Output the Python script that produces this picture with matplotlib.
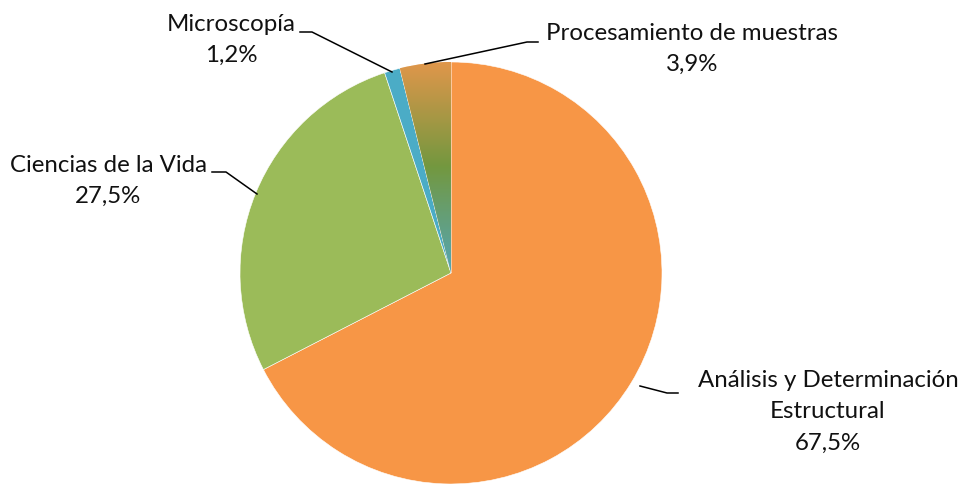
import numpy as np
import matplotlib
matplotlib.use("Agg")
import matplotlib.pyplot as plt
from matplotlib.colors import LinearSegmentedColormap

plt.rcParams['font.family'] = ['Lato', 'DejaVu Sans']

# shares by area
categories = ["Análisis y Determinación\nEstructural", "Ciencias de la Vida",
              "Microscopía", "Procesamiento de muestras"]
values = [67.5, 27.5, 1.2, 3.9]
pct_labels = ["67,5%", "27,5%", "1,2%", "3,9%"]
colors = ["#F79646", "#9BBB59", "#4BACC6", "#E2964B"]

W, H = 960, 484
fig = plt.figure(figsize=(W / 100, H / 100), dpi=100)
ax = fig.add_axes([0, 0, 1, 1])

cx, cy, r = 451, H - 273, 211
wedges, _ = ax.pie(values, startangle=90, counterclock=False, colors=colors,
                   center=(cx, cy), radius=r, frame=True,
                   wedgeprops=dict(edgecolor="white", linewidth=0.4))
ax.set_xlim(0, W)
ax.set_ylim(0, H)
ax.set_aspect("equal")
ax.axis("off")

# gradient fill for the last slice
grad = LinearSegmentedColormap.from_list(
    "proc", [(0.0, "#E2964B"), (0.5, "#73983F"), (1.0, "#55A6B5")])
wg = wedges[3]
g = np.linspace(0, 1, 256).reshape(-1, 1)
img = ax.imshow(g, cmap=grad, extent=(cx - 60, cx + 2, cy, cy + r + 2),
                origin="upper", aspect="auto", zorder=wg.get_zorder() + 0.1)
img.set_clip_path(wg)
ax.set_xlim(0, W)
ax.set_ylim(0, H)

fs = 17.3
txt = dict(fontsize=fs, color="#111111", ha="center", va="center", linespacing=1.62)
ln = dict(color="black", linewidth=1.1)

# Análisis y Determinación Estructural
ax.text(828, H - 412, categories[0] + "\n" + pct_labels[0], **txt)
ax.plot([640, 667, 678], [H - 386, H - 393, H - 393], **ln)

# Ciencias de la Vida
ax.text(108, H - 181, categories[1] + "\n" + pct_labels[1], **txt)
ax.plot([212, 226, 257], [H - 172, H - 172, H - 194], **ln)

# Microscopía
ax.text(231, H - 40, categories[2] + "\n" + pct_labels[2], **txt)
ax.plot([300, 312, 392], [H - 32, H - 32, H - 72], **ln)

# Procesamiento de muestras
ax.text(692, H - 49, categories[3] + "\n" + pct_labels[3], **txt)
ax.plot([425, 527, 538], [H - 64, H - 42, H - 42], **ln)

fig.savefig("out.png", dpi=100)
